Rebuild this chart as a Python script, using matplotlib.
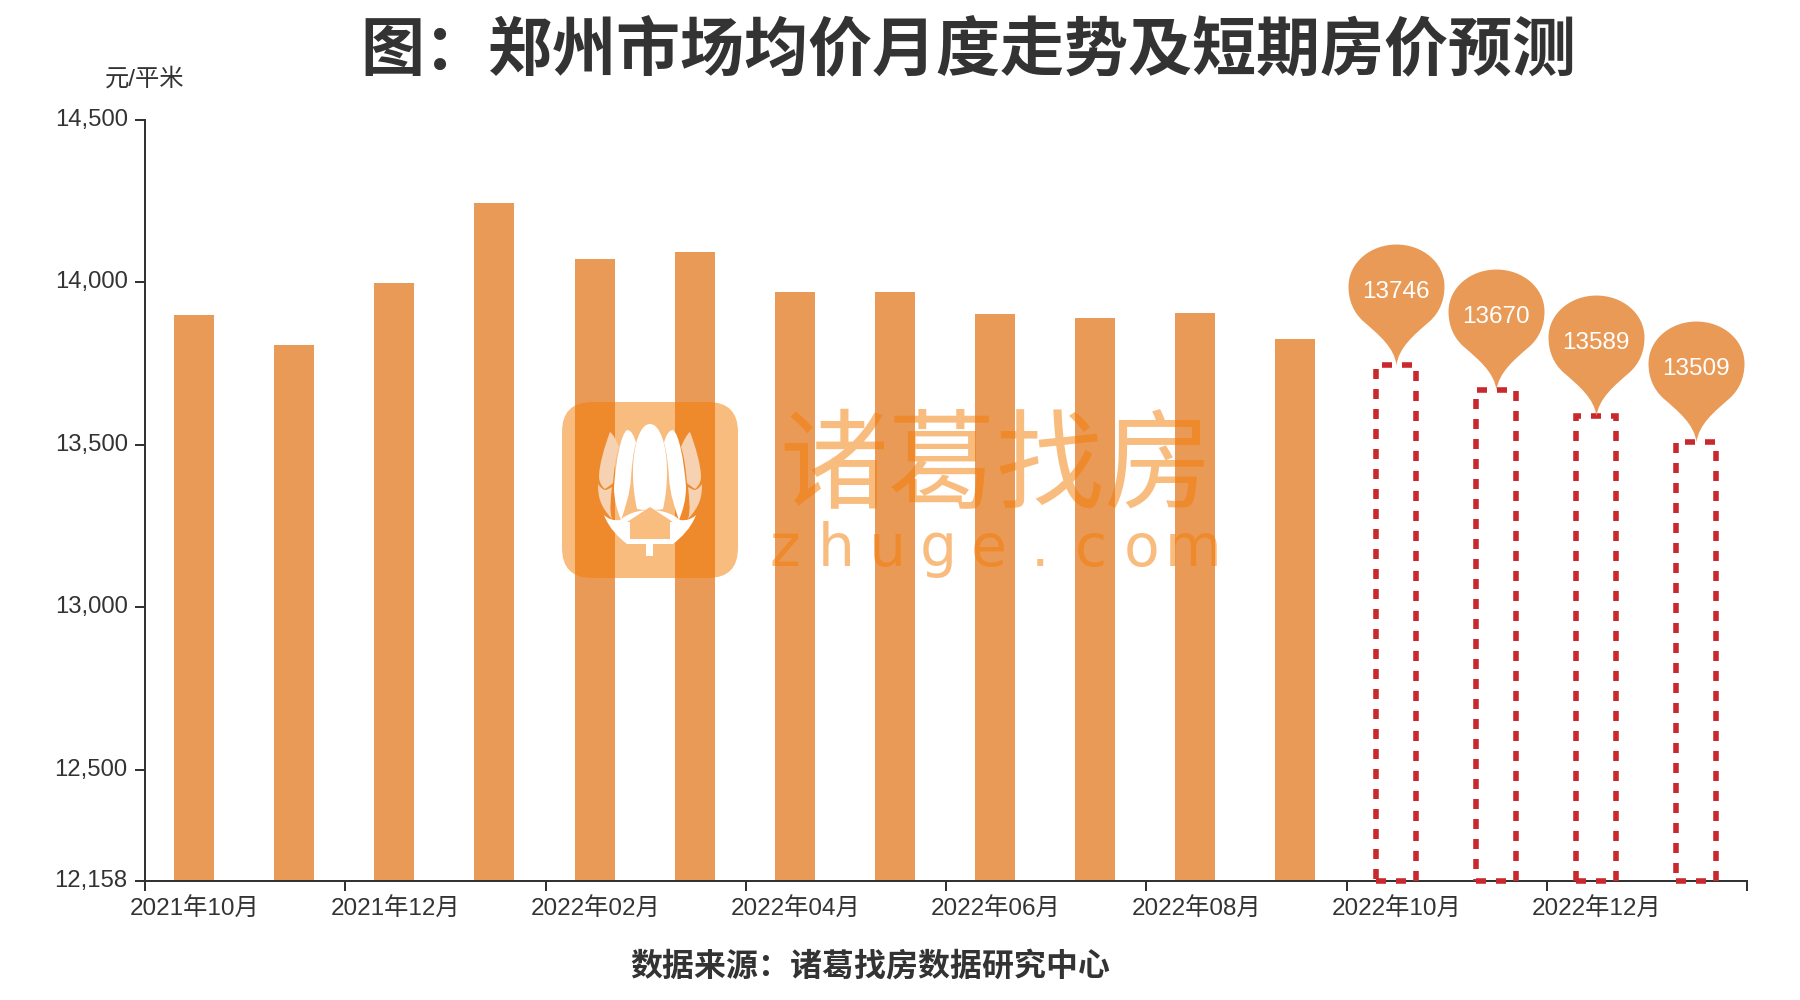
import matplotlib
matplotlib.use("Agg")
import matplotlib.pyplot as plt
from matplotlib.patches import FancyBboxPatch, PathPatch, Rectangle
from matplotlib.path import Path

plt.rcParams["font.family"] = ["Liberation Sans", "Noto Sans CJK SC"]

months = ["2021年10月", "2021年11月", "2021年12月", "2022年01月", "2022年02月", "2022年03月",
          "2022年04月", "2022年05月", "2022年06月", "2022年07月", "2022年08月", "2022年09月",
          "2022年10月", "2022年11月", "2022年12月", "2023年01月"]
actual = [13901, 13808, 13998, 14245, 14071, 14095, 13972, 13972, 13903, 13890, 13907, 13826]
forecast = [13746, 13670, 13589, 13509]
y_ticks = [12158, 12500, 13000, 13500, 14000, 14500]

INK = "#333333"
BAR = "#ea9a57"
RED = "#c9282d"
WM = "#f37b00"
PALE = "#f6d2b2"
W, H = 1800, 1000
LEFT, RIGHT, TOP, BOTTOM = 145, 1747, 120, 881

fig = plt.figure(figsize=(18, 10), dpi=100)
ax = fig.add_axes([LEFT / W, 1 - BOTTOM / H, (RIGHT - LEFT) / W, (BOTTOM - TOP) / H])

# the bars sit about a pixel left of the band centres in the reference
x_actual = [i - 0.01 for i in range(len(actual))]
x_forecast = [len(actual) + i - 0.01 for i in range(len(forecast))]

ax.bar(x_actual, [v - y_ticks[0] for v in actual], bottom=y_ticks[0], width=0.4, color=BAR)
ax.bar(x_forecast, [v - y_ticks[0] for v in forecast], bottom=y_ticks[0], width=0.4,
       facecolor="none", edgecolor=RED, linewidth=4, linestyle=(0, (1.8, 1.8)), clip_on=False, zorder=3)

# pin marker, tip sits at the origin
pin = Path(
    [(0, 0), (2, 18), (18, 31), (33, 44), (43, 53), (48, 65), (48, 79),
     (48, 103), (26, 121), (0, 121), (-26, 121), (-48, 103), (-48, 79),
     (-48, 65), (-43, 53), (-33, 44), (-18, 31), (-2, 18), (0, 0)],
    [Path.MOVETO] + [Path.CURVE4] * 18,
)
ax.plot(x_forecast, forecast, linestyle="none", marker=pin, markersize=174.2,
        markerfacecolor=BAR, markeredgecolor="none", clip_on=False, zorder=4)
for x, v in zip(x_forecast, forecast):
    ax.annotate(str(v), (x, v), xytext=(0, 52.5), textcoords="offset points",
                ha="center", va="center", color="white", fontsize=17.5, zorder=5)

ax.set_xlim(-0.5, len(months) - 0.5)
ax.set_ylim(y_ticks[0], y_ticks[-1])
ax.set_yticks(y_ticks)
ax.set_yticklabels([f"{v:,}" for v in y_ticks], va="center")
ax.set_xticks([i - 0.5 for i in range(0, len(months) + 1, 2)])
ax.set_xticklabels([])
ax.tick_params(axis="both", length=7.5, width=1.44, color=INK, labelcolor=INK, labelsize=17.2, pad=5)
for i in range(0, len(months), 2):
    ax.annotate(months[i], (i, 0), xycoords=("data", "axes fraction"), xytext=(0, -12.5),
                textcoords="offset points", ha="center", va="top", color=INK, fontsize=17.5)
for side in ["top", "right"]:
    ax.spines[side].set_visible(False)
for side in ["left", "bottom"]:
    ax.spines[side].set_linewidth(1.44)
    ax.spines[side].set_color(INK)

# overlay in image pixels for the titles and the watermark
over = fig.add_axes([0, 0, 1, 1], zorder=10)
over.set_xlim(0, W)
over.set_ylim(H, 0)
over.axis("off")

over.text(968, 52, "图：郑州市场均价月度走势及短期房价预测", ha="center", va="center",
          fontsize=46.1, fontweight="bold", color=INK)
over.text(145, 79, "元/平米", ha="center", va="center", fontsize=17.5, color=INK)
over.text(870, 967, "数据来源：诸葛找房数据研究中心", ha="center", va="center",
          fontsize=23, fontweight="bold", color=INK)

over.add_patch(FancyBboxPatch((592, 432), 116, 116, boxstyle="round,pad=30,rounding_size=30",
                              facecolor=WM, edgecolor="none", alpha=0.5))


def petal(verts, color):
    # verts are (offset from the logo centre line, y), drawn on both sides
    codes = [Path.MOVETO] + [Path.CURVE4] * (len(verts) - 1)
    for sign in (1, -1):
        pts = [(650 + sign * dx, y) for dx, y in verts]
        over.add_patch(PathPatch(Path(pts, codes), facecolor=color, edgecolor="none"))


# lower white body
petal([(0, 510), (20, 510), (30, 520), (30, 520), (36, 521), (42, 519), (46, 515),
       (41, 528), (32, 537), (23, 544), (15, 544), (8, 544), (0, 544)], "white")
# wings
petal([(40, 432), (45, 445), (51, 465), (51, 477), (51, 481), (49, 486), (45, 489),
       (42, 487), (39, 485), (37, 483), (36, 470), (34, 455), (31, 447), (34, 440), (37, 434), (40, 432)], PALE)
petal([(52, 484), (52, 497), (50, 506), (38, 519), (41, 510), (39, 497), (38, 487),
       (40, 488), (43, 490), (45, 490), (48, 489), (50, 487), (52, 484)], PALE)
# inner petals
petal([(23, 430), (29, 434), (34, 460), (36, 487), (36, 500), (33, 510), (29, 520),
       (25, 508), (20, 495), (19, 477), (18, 465), (17, 452), (14, 443), (16, 435), (19, 430), (23, 430)], "white")
petal([(0, 424), (10, 424), (17, 445), (17, 472), (17, 488), (15, 500), (13, 509),
       (9, 510), (4, 510), (0, 510)], "white")
over.add_patch(Rectangle((646, 540), 7, 16, facecolor="white", edgecolor="none"))

house = Path([(650, 507), (673, 522), (670, 522), (670, 539), (630, 539), (630, 522), (627, 522), (650, 507)])
over.add_patch(PathPatch(house, facecolor="#f9bd7f", edgecolor="none"))

over.text(996, 472, "诸葛找房", ha="center", va="center", fontsize=78, fontweight="medium", color=WM, alpha=0.5)
for i, ch in enumerate("zhuge.com"):
    over.text(785 + i * 51, 566, ch, ha="center", va="baseline", fontsize=42, color=WM, alpha=0.5,
              family="DejaVu Sans")

fig.savefig("out.png", dpi=100)
plt.close(fig)
